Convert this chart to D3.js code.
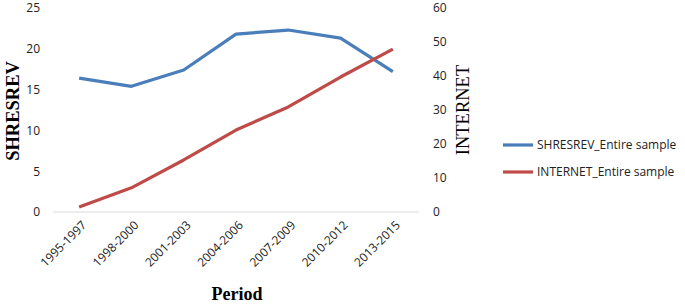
<!DOCTYPE html>
<html>
<head>
<meta charset="utf-8">
<script src="https://cdn.jsdelivr.net/npm/d3@7"></script>
<style>
body { margin: 0; background: #fff; }
.tick text { font-family: "Open Sans", sans-serif; font-size: 12px; fill: #222; }
</style>
</head>
<body>
<div id="chart"></div>
<script>
// data
var periods = ["1995-1997", "1998-2000", "2001-2003", "2004-2006", "2007-2009", "2010-2012", "2013-2015"];
var shresrev = [16.4, 15.4, 17.4, 21.8, 22.3, 21.3, 17.2];
var internet = [1.5, 7.1, 15.3, 24.1, 30.9, 39.7, 47.9];
var leftTicks = [0, 5, 10, 15, 20, 25];
var rightTicks = [0, 10, 20, 30, 40, 50, 60];

var w = 685, h = 307;
var plotLeft = 53, plotRight = 419, plotTop = 8, plotBottom = 212;

var svg = d3.select("#chart").append("svg")
	.attr("width", w)
	.attr("height", h);

var xScale = d3.scaleBand().domain(periods).range([plotLeft, plotRight]);
var yLeft = d3.scaleLinear().domain([0, 25]).range([plotBottom, plotTop]);
var yRight = d3.scaleLinear().domain([0, 60]).range([plotBottom, plotTop]);

// x axis baseline
svg.append("line")
	.attr("x1", plotLeft).attr("x2", plotRight)
	.attr("y1", plotBottom).attr("y2", plotBottom)
	.attr("stroke", "#d9d9d9").attr("stroke-width", 1);

// left axis
var gl = svg.append("g")
	.attr("transform", "translate(" + (plotLeft - 13) + ",0)")
	.call(d3.axisLeft(yLeft).tickValues(leftTicks).tickSize(0).tickPadding(0));
gl.select(".domain").remove();

// right axis
var gr = svg.append("g")
	.attr("transform", "translate(" + (plotRight + 14) + ",0)")
	.call(d3.axisRight(yRight).tickValues(rightTicks).tickSize(0).tickPadding(0));
gr.select(".domain").remove();

// x axis labels
var gx = svg.append("g")
	.attr("transform", "translate(0," + (plotBottom + 6) + ")")
	.call(d3.axisBottom(xScale).tickSize(0).tickPadding(0));
gx.select(".domain").remove();
gx.selectAll("text")
	.attr("text-anchor", "end")
	.attr("dy", "0.35em")
	.attr("transform", "translate(5,5) rotate(-45)");

// lines
function drawLine(values, scale, color) {
	var line = d3.line()
		.x(function(d, i) { return xScale(periods[i]) + xScale.bandwidth() / 2; })
		.y(function(d) { return scale(d); });
	svg.append("path")
		.datum(values)
		.attr("d", line)
		.attr("fill", "none")
		.attr("stroke", color)
		.attr("stroke-width", 3.2)
		.attr("stroke-linejoin", "round");
}
drawLine(shresrev, yLeft, "#4a7ebb");
drawLine(internet, yRight, "#be4b48");

// axis titles
svg.append("text")
	.attr("transform", "translate(19,111) rotate(-90)")
	.attr("text-anchor", "middle")
	.style("font-family", "'Liberation Serif', serif")
	.style("font-weight", "bold")
	.style("font-size", "18.5px")
	.text("SHRESREV");

svg.append("text")
	.attr("transform", "translate(469,110) rotate(-90)")
	.attr("text-anchor", "middle")
	.style("font-family", "'Liberation Serif', serif")
	.style("font-size", "18.5px")
	.text("INTERNET");

svg.append("text")
	.attr("x", 237).attr("y", 300)
	.attr("text-anchor", "middle")
	.style("font-family", "'Liberation Serif', serif")
	.style("font-weight", "bold")
	.style("font-size", "18px")
	.text("Period");

// legend
var legend = [["SHRESREV_Entire sample", "#4a7ebb"], ["INTERNET_Entire sample", "#be4b48"]];
legend.forEach(function(d, i) {
	var y = 145 + i * 27;
	svg.append("line")
		.attr("x1", 503).attr("x2", 533)
		.attr("y1", y).attr("y2", y)
		.attr("stroke", d[1]).attr("stroke-width", 3.2);
	svg.append("text")
		.attr("x", 537).attr("y", y)
		.attr("dy", "0.35em")
		.style("font-family", "'Open Sans', sans-serif")
		.style("font-size", "12px")
		.style("fill", "#222")
		.text(d[0]);
});
</script>
</body>
</html>
